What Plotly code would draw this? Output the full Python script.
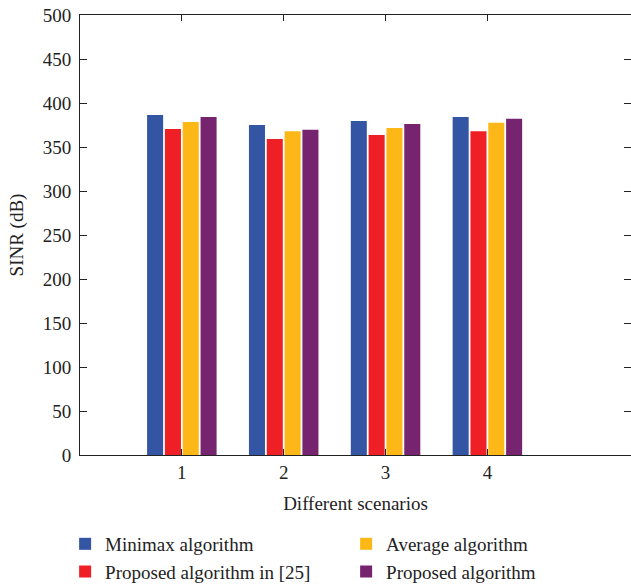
import plotly.graph_objects as go

scenarios = [1, 2, 3, 4]
series_names = ["Minimax algorithm", "Proposed algorithm in [25]", "Average algorithm", "Proposed algorithm"]
minimax = [386.5, 375.0, 379.5, 384.0]
proposed_25 = [370.5, 359.0, 363.5, 368.0]
average = [378.5, 368.0, 371.5, 377.5]
proposed = [384.0, 369.5, 376.0, 382.0]
colors = ["#3454A4", "#EE1F25", "#FDB817", "#762470"]
legend_ranks = [1, 3, 2, 4]
y_ticks = [0, 50, 100, 150, 200, 250, 300, 350, 400, 450, 500]

FONT = "Liberation Serif"

fig = go.Figure()
for name, vals, col, rank in zip(series_names, [minimax, proposed_25, average, proposed], colors, legend_ranks):
    fig.add_trace(go.Bar(x=scenarios, y=vals, name=name, marker=dict(color=col, line=dict(width=0)),
                         legendrank=rank))

axis_common = dict(showline=True, linecolor="#222222", linewidth=1, mirror="ticks",
                   ticks="inside", tickcolor="#222222", tickwidth=1, showgrid=False, zeroline=False,
                   tickfont=dict(family=FONT, size=19, color="#222222"))

fig.update_layout(
    width=631, height=584,
    margin=dict(l=80, r=0, t=15, b=129, autoexpand=False),
    paper_bgcolor="white", plot_bgcolor="white",
    barmode="group", bargap=0.3, bargroupgap=0.1,
    font=dict(family=FONT, size=19, color="#222222"),
    xaxis=dict(range=[0, 5.41], tickvals=scenarios, ticklen=6,
               title=dict(text="Different scenarios", font=dict(family=FONT, size=19), standoff=14),
               **axis_common),
    yaxis=dict(range=[0, 500], tickvals=y_ticks, ticklen=7, ticklabelstandoff=4,
               title=dict(text="SINR (dB)", font=dict(family=FONT, size=19), standoff=14),
               **axis_common),
    legend=dict(orientation="h", x=-0.027, xanchor="left", y=-0.159, yanchor="top",
                entrywidth=236, traceorder="normal",
                font=dict(family=FONT, size=19, color="#222222"), tracegroupgap=0),
    showlegend=True,
)

fig.write_html("out.html")
